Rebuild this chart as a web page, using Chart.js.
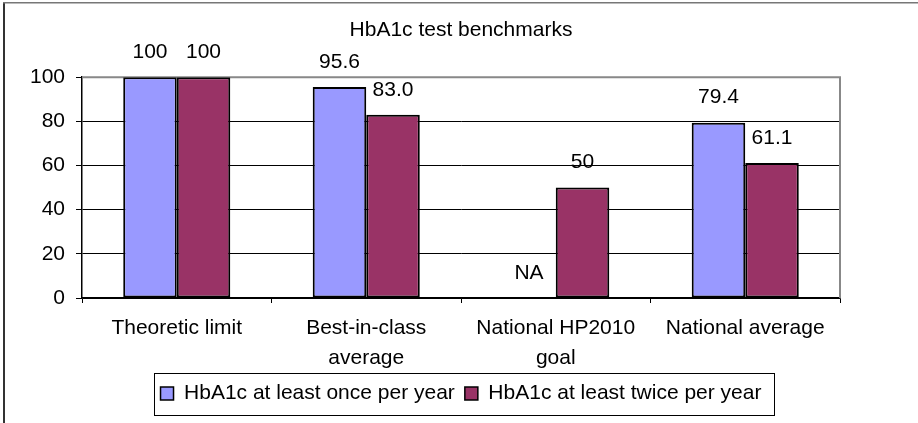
<!DOCTYPE html>
<html>
<head>
<meta charset="utf-8">
<script src="https://cdn.jsdelivr.net/npm/chart.js@4.4.1/dist/chart.umd.min.js"></script>
<style>
    html, body { margin: 0; padding: 0; background: #fff; }
    #wrap { width: 918px; height: 423px; }
</style>
</head>
<body>
<div id="wrap"><canvas id="chart" width="918" height="423"></canvas></div>
<script>
// Chart data
const categories = ["Theoretic limit", ["Best-in-class", "average"], ["National HP2010", "goal"], "National average"];
const onceValues = [100, 95.6, null, 79.4];
const twiceValues = [100, 83.0, 50, 61.1];
const onceLabels = ["100", "95.6", "NA", "79.4"];
const twiceLabels = ["100", "83.0", "50", "61.1"];
const seriesNames = ["HbA1c at least once per year", "HbA1c at least twice per year"];

const FONT = "'Liberation Sans', Arial, sans-serif";
Chart.defaults.font.family = FONT;
Chart.defaults.font.size = 21;
Chart.defaults.color = "#000";

// Frame lines, plot border and legend border
const framePlugin = {
    id: "frame",
    beforeDraw(chart) {
        const ctx = chart.ctx;
        ctx.save();
        ctx.fillStyle = "#fff";
        ctx.fillRect(0, 0, chart.width, chart.height);
        ctx.fillStyle = "#333";
        ctx.fillRect(3, 2, 2, chart.height);
        ctx.fillStyle = "#777";
        ctx.fillRect(3, 2, chart.width, 1.5);
        ctx.restore();
    },
    beforeDatasetsDraw(chart) {
        const { ctx, chartArea } = chart;
        ctx.save();
        ctx.strokeStyle = "#888";
        ctx.lineWidth = 2;
        ctx.beginPath();
        ctx.moveTo(chartArea.left, chartArea.top);
        ctx.lineTo(chartArea.right, chartArea.top);
        ctx.lineTo(chartArea.right, chartArea.bottom);
        ctx.stroke();
        ctx.restore();
    },
    afterDraw(chart) {
        const legend = chart.legend;
        const boxes = legend.legendHitBoxes;
        if (!boxes || !boxes.length) return;
        const last = boxes[boxes.length - 1];
        const left = boxes[0].left - 7;
        const right = last.left + last.width + 12;
        const ctx = chart.ctx;
        ctx.save();
        ctx.strokeStyle = "#000";
        ctx.lineWidth = 1;
        ctx.strokeRect(Math.round(left) + 0.5, legend.top + 0.5, Math.round(right - left), 42);
        ctx.restore();
    }
};

// Value labels above each bar
const valueLabelPlugin = {
    id: "valueLabels",
    afterDatasetsDraw(chart) {
        const ctx = chart.ctx;
        const yScale = chart.scales.y;
        ctx.save();
        ctx.font = "21px " + FONT;
        ctx.fillStyle = "#000";
        ctx.textAlign = "center";
        ctx.textBaseline = "middle";
        chart.data.datasets.forEach((ds, di) => {
            const meta = chart.getDatasetMeta(di);
            meta.data.forEach((el, i) => {
                const v = ds.data[i];
                const y = yScale.getPixelForValue(v === null ? 0 : v);
                ctx.fillText(ds.valueLabels[i], el.x, y - 25);
            });
        });
        ctx.restore();
    }
};

new Chart(document.getElementById("chart"), {
    type: "bar",
    data: {
        labels: categories,
        datasets: [
            {
                label: seriesNames[0],
                data: onceValues,
                valueLabels: onceLabels,
                backgroundColor: "#9999FF",
                borderColor: "#000",
                borderWidth: 2,
                borderSkipped: false,
                categoryPercentage: 0.565,
                barPercentage: 1
            },
            {
                label: seriesNames[1],
                data: twiceValues,
                valueLabels: twiceLabels,
                backgroundColor: "#993366",
                borderColor: "#000",
                borderWidth: 2,
                borderSkipped: false,
                categoryPercentage: 0.565,
                barPercentage: 1
            }
        ]
    },
    options: {
        responsive: false,
        animation: false,
        layout: { padding: { left: 0, right: 78, top: 0, bottom: 9 } },
        plugins: {
            title: {
                display: true,
                fullSize: false,
                text: "HbA1c test benchmarks",
                font: { size: 21, weight: "normal", lineHeight: 1.2 },
                color: "#000",
                padding: { top: 18, bottom: 34 }
            },
            legend: {
                position: "bottom",
                fullSize: false,
                labels: {
                    boxWidth: 13,
                    boxHeight: 13,
                    padding: 10,
                    font: { size: 21 },
                    color: "#000",
                    generateLabels(chart) {
                        return chart.data.datasets.map((ds, i) => ({
                            text: ds.label,
                            fillStyle: ds.backgroundColor,
                            strokeStyle: "#000",
                            lineWidth: 1.5,
                            datasetIndex: i
                        }));
                    }
                }
            },
            tooltip: { enabled: false }
        },
        scales: {
            x: {
                afterFit(scale) { scale.height = 75; },
                grid: { drawOnChartArea: false, tickLength: 5, color: "#000", offset: true },
                border: { color: "#000", width: 1.5 },
                ticks: {
                    font: { size: 21, lineHeight: "30px" },
                    color: "#000",
                    padding: 10,
                    maxRotation: 0,
                    autoSkip: false
                }
            },
            y: {
                min: 0,
                max: 100,
                afterFit(scale) { scale.width = 82; },
                grid: { color: "#000", lineWidth: 1, tickLength: 6 },
                border: { color: "#000", width: 1.5 },
                ticks: { stepSize: 20, font: { size: 21 }, color: "#000", padding: 11 }
            }
        }
    },
    plugins: [framePlugin, valueLabelPlugin]
});
</script>
</body>
</html>
